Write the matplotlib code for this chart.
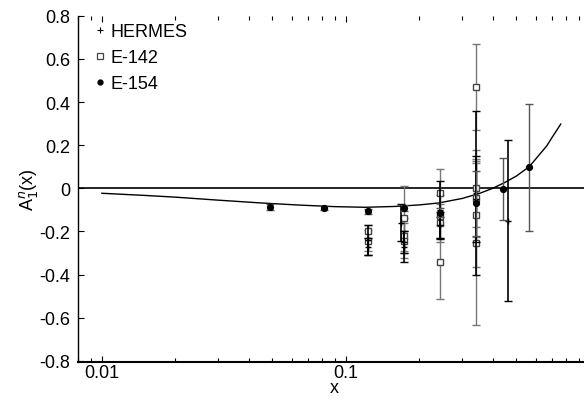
import matplotlib
matplotlib.use("Agg")
import matplotlib.pyplot as plt
from matplotlib.ticker import FixedLocator, FixedFormatter, LogLocator, NullFormatter

plt.rcParams["font.family"] = ["Liberation Sans", "DejaVu Sans"]

# ── Data ───────────────────────────────────────────────────────────────────────
e154_x   = [0.049, 0.081, 0.123, 0.173, 0.242, 0.342, 0.441, 0.564]
e154_y   = [-0.087, -0.092, -0.107, -0.091, -0.113, -0.070, -0.003, 0.098]
e154_err = [0.012, 0.010, 0.012, 0.014, 0.020, 0.150, 0.142, 0.294]

e142_x   = [0.123, 0.123, 0.173, 0.173, 0.173, 0.242, 0.242, 0.242, 0.242,
            0.342, 0.342, 0.342, 0.342, 0.342]
e142_y   = [-0.200, -0.243, -0.139, -0.220, -0.243, -0.022, -0.130, -0.161, -0.342,
            0.471, 0.000, -0.046, -0.124, -0.254]
e142_err = [0.030, 0.050, 0.150, 0.080, 0.080, 0.110, 0.100, 0.090, 0.170,
            0.200, 0.180, 0.180, 0.240, 0.380]

herm_x   = [0.123, 0.123, 0.168, 0.173, 0.173, 0.242, 0.242, 0.342, 0.342, 0.464]
herm_y   = [-0.240, -0.270, -0.160, -0.250, -0.270, -0.100, -0.170, -0.020, -0.050, -0.150]
herm_err = [0.070, 0.040, 0.085, 0.050, 0.070, 0.135, 0.060, 0.380, 0.200, 0.375]

curve_x = [0.01, 0.015, 0.02, 0.03, 0.045, 0.065, 0.09, 0.12, 0.16, 0.20, 0.24,
           0.30, 0.354, 0.40, 0.45, 0.50, 0.564, 0.62, 0.667, 0.70, 0.76]
curve_y = [-0.023, -0.033, -0.041, -0.055, -0.068, -0.078, -0.085, -0.088, -0.084,
           -0.077, -0.068, -0.047, -0.023, 0.0, 0.028, 0.057, 0.100, 0.155, 0.198,
           0.236, 0.298]

y_ticks  = [0.8, 0.6, 0.4, 0.2, 0.0, -0.2, -0.4, -0.6, -0.8]
y_labels = ["0.8", "0.6", "0.4", "0.2", "0", "-0.2", "-0.4", "-0.6", "-0.8"]
x_ticks  = [0.01, 0.1]
x_labels = ["0.01", "0.1"]

FS = 13

# ── Figure ────────────────────────────────────────────────────────────────────
fig = plt.figure(figsize=(5.84, 4.02), dpi=100)
ax = fig.add_axes([0.134, 0.098, 0.876, 0.860])

ax.axhline(0, color="black", lw=1.2, zorder=2)
ax.plot(curve_x, curve_y, "-", color="black", lw=1.0, zorder=3)

ax.errorbar(e142_x, e142_y, yerr=e142_err, fmt="s", ms=4.5, mfc="white",
            mec="#444444", mew=1.0, ecolor="#777777", elinewidth=1.0,
            capsize=3, capthick=1.0, zorder=4)
ax.errorbar(herm_x, herm_y, yerr=herm_err, fmt="+", ms=5, color="black",
            mew=1.0, ecolor="black", elinewidth=1.2, capsize=3, capthick=1.0,
            zorder=5)
ax.errorbar(e154_x, e154_y, yerr=e154_err, fmt="o", ms=4.2, color="black",
            ecolor="#555555", elinewidth=1.0, capsize=3, capthick=1.0, zorder=6)

# legend handles (markers only)
h1, = ax.plot([], [], "+", color="black", ms=4, mew=0.8)
h2, = ax.plot([], [], "s", ms=4, mfc="white", mec="#444444", mew=0.9)
h3, = ax.plot([], [], "o", color="black", ms=3.5)
ax.legend([h1, h2, h3], ["HERMES", "E-142", "E-154"], loc="upper left",
          bbox_to_anchor=(0.02, 1.0), frameon=False, fontsize=FS,
          handlelength=0.5, handletextpad=0.3, labelspacing=0.5,
          borderaxespad=0.2, borderpad=0.2)

ax.set_xscale("log")
ax.set_xlim(0.008, 1.0)
ax.set_ylim(-0.804, 0.8)

ax.xaxis.set_major_locator(FixedLocator(x_ticks))
ax.xaxis.set_major_formatter(FixedFormatter(x_labels))
ax.xaxis.set_minor_locator(LogLocator(base=10, subs=range(2, 10)))
ax.xaxis.set_minor_formatter(NullFormatter())
ax.yaxis.set_major_locator(FixedLocator(y_ticks))
ax.yaxis.set_major_formatter(FixedFormatter(y_labels))

ax.tick_params(which="both", direction="in", top=True, right=True,
               labelsize=FS)
ax.tick_params(which="major", length=4, width=0.8)
ax.tick_params(which="minor", length=3, width=0.8)
ax.tick_params(axis="x", pad=2)
ax.tick_params(axis="y", pad=6)

ax.spines["top"].set_visible(False)
ax.spines["left"].set_linewidth(1.0)
ax.spines["bottom"].set_linewidth(1.5)

ax.set_xlabel("x", fontsize=FS, labelpad=-2)
ax.set_ylabel("A$_1^n$(x)", fontsize=FS, labelpad=-1)

fig.savefig("out.png", dpi=100)
